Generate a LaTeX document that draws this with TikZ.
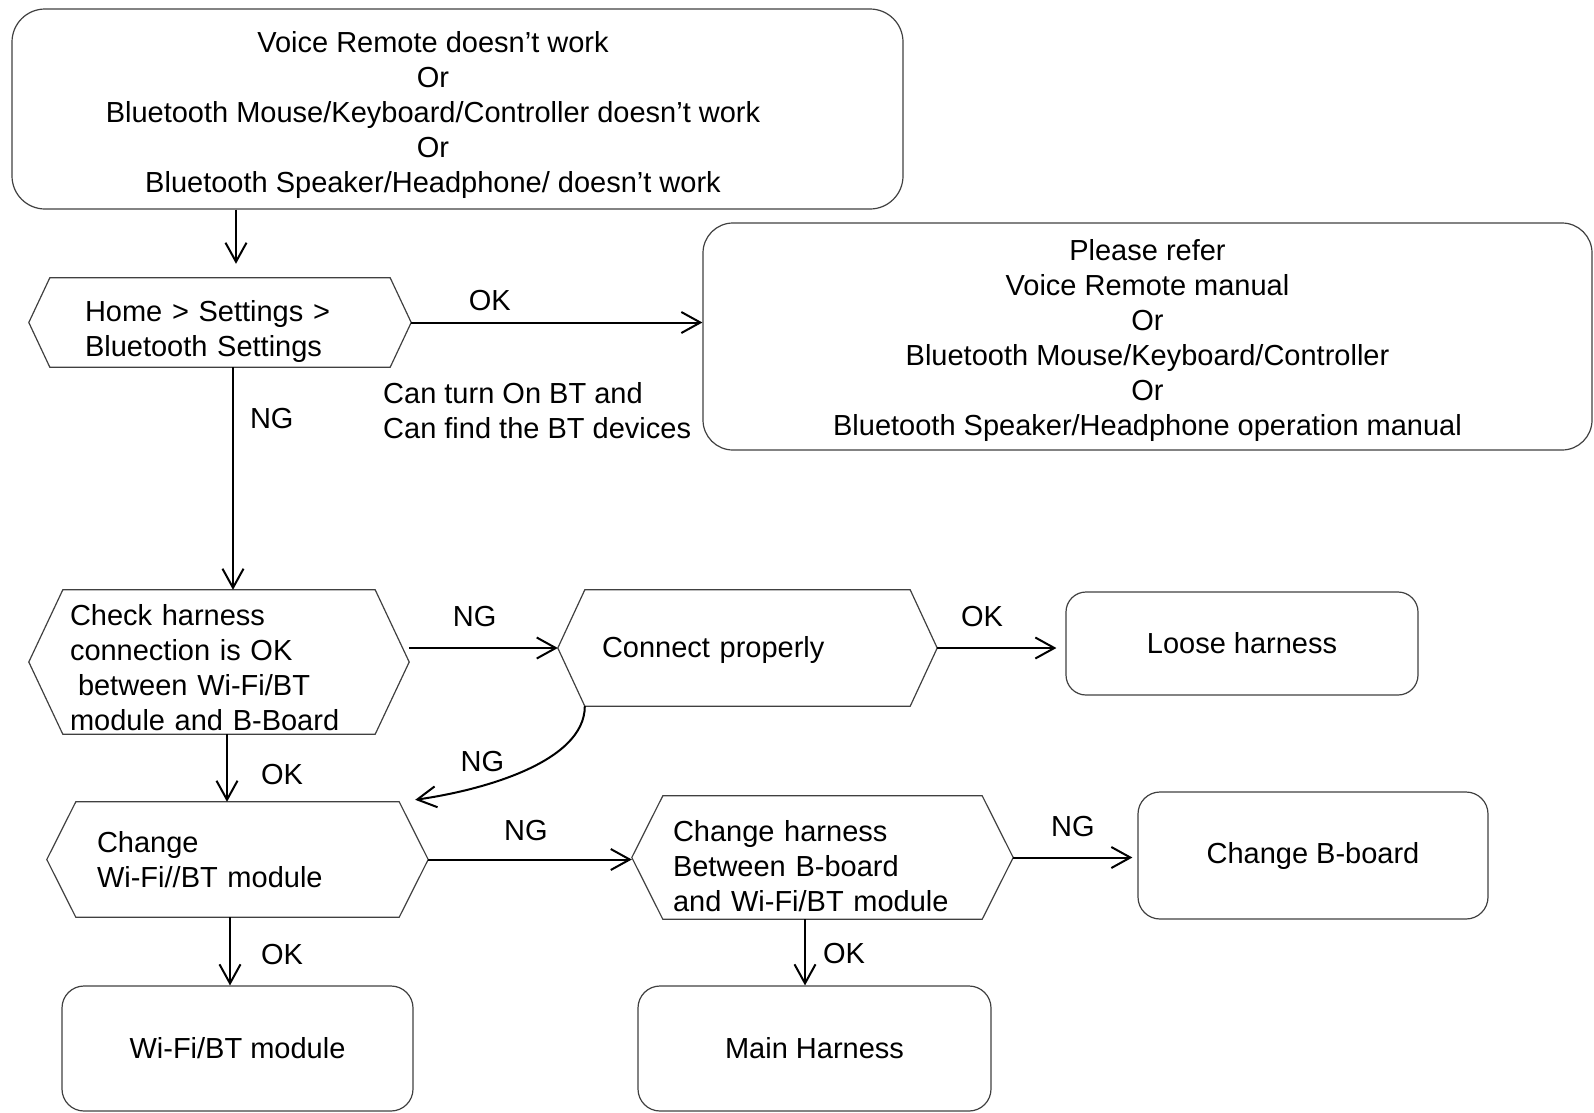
\documentclass[tikz,border=0pt]{standalone}
\usepackage{fontspec}
\setmainfont{Liberation Sans}
\usepackage{tikz}
\usetikzlibrary{arrows.meta,positioning}
\newcommand{\hexframe}[2]{%
  \draw[hexline] (#1.west) -- ([xshift=#2]#1.north west) -- ([xshift=-#2]#1.north east)
    -- (#1.east) -- ([xshift=-#2]#1.south east) -- ([xshift=#2]#1.south west) -- cycle;}

\begin{document}
\begin{tikzpicture}[
  x=1pt, y=-1pt,
  font=\fontsize{29}{35}\selectfont,
  rbox/.style={draw=black!75, line width=1.2pt, rounded corners=22pt, align=center, inner sep=0pt},
  hexbox/.style={inner sep=0pt, align=left},
  hexline/.style={draw=black!75, line width=1.2pt, line join=miter},
  arr/.style={-{Straight Barb[length=19pt,width=21pt]}, line width=2pt},
  lab/.style={inner sep=0pt}
]
\useasboundingbox (0,0) rectangle (1594,1112);
% symptom
\node[rbox, rounded corners=33pt, minimum width=891pt, minimum height=200pt,
  label={[align=center, xshift=-24.5pt, yshift=-6pt]center:Voice Remote doesn’t work\\Or\\Bluetooth Mouse/Keyboard/Controller doesn’t work\\Or\\Bluetooth Speaker/Headphone/ doesn’t work}] (start) at (457.5,109) {};
% first check
\node[hexbox, minimum width=382pt, minimum height=89pt, text width=270pt] (home) at (220,322.5) {\rule{0pt}{38pt}Home > Settings >\\Bluetooth Settings};
\hexframe{home}{21pt}
\node[rbox, rounded corners=30pt, minimum width=889pt, minimum height=227pt] (refer) at (1147.5,336.5) {\rule{0pt}{29pt}Please refer\\Voice Remote manual\\Or\\Bluetooth Mouse/Keyboard/Controller\\Or\\Bluetooth Speaker/Headphone operation manual};
\node[lab, align=left, anchor=west] (cantxt) at (383,411) {Can turn On BT and\\Can find the BT devices};
% harness
\node[hexbox, minimum width=380pt, minimum height=144pt, text width=298pt] (check) at (219,662) {\rule{0pt}{33pt}Check harness\\connection is OK\\\hspace*{8pt}between Wi-Fi/BT\\module and B-Board};
\hexframe{check}{34pt}
\node[hexbox, minimum width=379pt, minimum height=116pt, text width=291pt] (connect) at (747.5,648) {\rule{0pt}{25pt}Connect properly};
\hexframe{connect}{27pt}
\node[rbox, rounded corners=20pt, minimum width=352pt, minimum height=103pt] (loose) at (1242,643.5) {Loose harness};
% replace parts
\node[hexbox, minimum width=381pt, minimum height=115pt, text width=281pt] (chgmod) at (237.5,859.5) {Change\\Wi-Fi//BT module};
\hexframe{chgmod}{29pt}
\node[hexbox, minimum width=381pt, minimum height=123pt, text width=299pt] (chgharn) at (822.5,857.5) {\rule{0pt}{38pt}Change harness\\Between B-board\\and Wi-Fi/BT module};
\hexframe{chgharn}{31pt}
\node[rbox, minimum width=350pt, minimum height=127pt] (bboard) at (1313,855.5) {Change B-board};
\node[rbox, minimum width=351pt, minimum height=125pt] (wifi) at (237.5,1048.5) {Wi-Fi/BT module};
\node[rbox, minimum width=353pt, minimum height=125pt] (mainh) at (814.5,1048.5) {Main Harness};
% arrows
\draw[arr, shorten >=14pt] ([xshift=16pt]home.north |- start.south) -- ([xshift=16pt]home.north);
\draw[arr] (home.east) -- (home.east -| refer.west) node[lab, pos=0.27, above=11pt] {OK};
\draw[arr] ([xshift=13pt]home.south) -- ([xshift=13pt]home.south |- check.north) node[lab, pos=0.23, right=16pt] {NG};
\draw[arr] (check.east |- connect.west) -- (connect.west) node[lab, pos=0.44, above=20pt] {NG};
\draw[arr, shorten >=9pt] (connect.east) -- (connect.east -| loose.west) node[lab, pos=0.35, above=20pt] {OK};
\draw[arr] ([xshift=8pt]check.south) -- ([xshift=8pt]check.south |- chgmod.north) node[lab, pos=0.59, right=33pt] {OK};
\draw[arr] ([xshift=27pt]connect.south west) .. controls +(0,55) and +(70,-10) .. ([xshift=-13pt,yshift=2pt]chgmod.north east) node[lab, pos=0.6, anchor=south east, yshift=6pt] {NG};
\draw[arr] (chgmod.east) -- (chgmod.east -| chgharn.west) node[lab, pos=0.48, above=18pt] {NG};
\draw[arr, shorten >=5pt] (chgharn.east) -- (chgharn.east -| bboard.west) node[lab, pos=0.48, above=20pt] {NG};
\draw[arr] ([xshift=-7.5pt]chgmod.south) -- ([xshift=-7.5pt]chgmod.south |- wifi.north) node[lab, pos=0.55, right=30pt] {OK};
\draw[arr] ([xshift=-17.5pt]chgharn.south) -- ([xshift=-17.5pt]chgharn.south |- mainh.north) node[lab, pos=0.52, right=17pt] {OK};
\end{tikzpicture}
\end{document}
